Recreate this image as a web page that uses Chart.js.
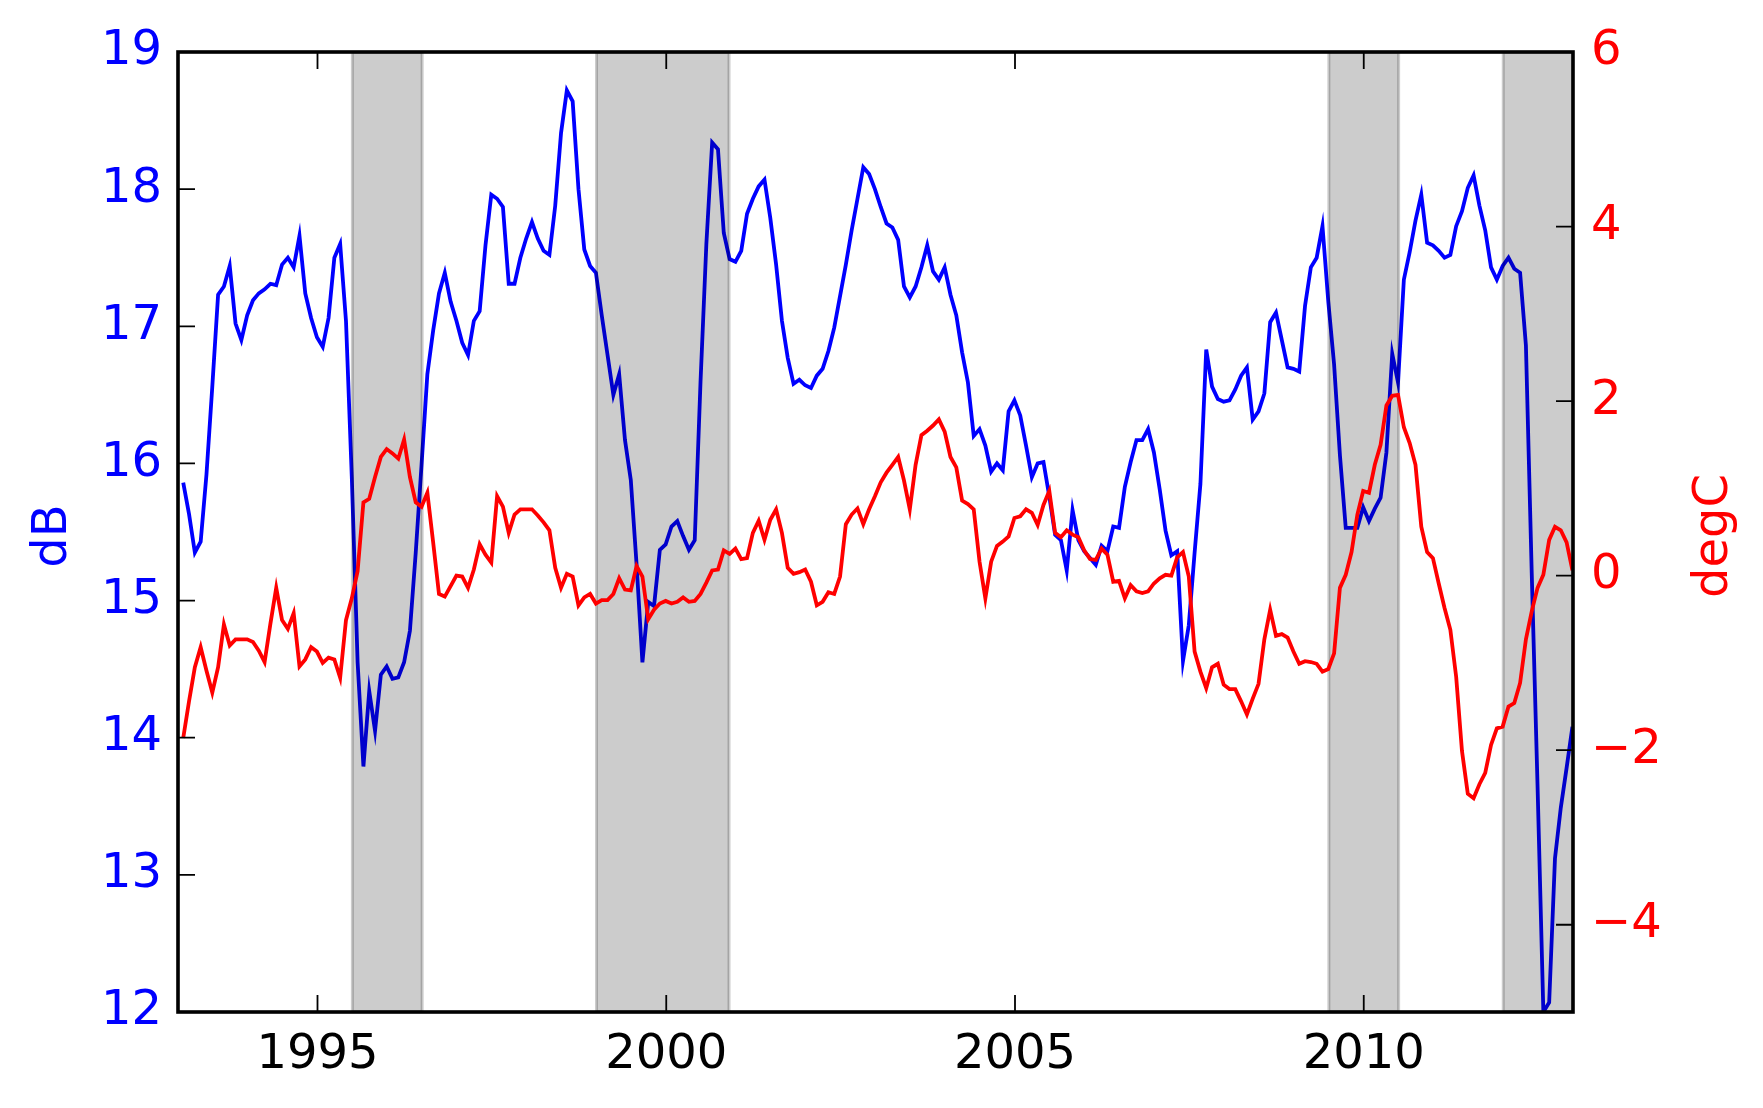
<!DOCTYPE html>
<html>
<head>
<meta charset="utf-8">
<script src="https://cdn.jsdelivr.net/npm/chart.js@4.4.1/dist/chart.umd.min.js"></script>
<style>
  html, body { margin: 0; padding: 0; background: #fff; }
  canvas { display: block; }
</style>
</head>
<body>
<canvas id="grafico" width="1763" height="1108"></canvas>
<script>
// monthly series, first sample late Jan 1993
const firstMonth = 1993 + 0.9 / 12;

const dB = [
  15.86, 15.63, 15.35, 15.43, 15.92, 16.56, 17.23, 17.29, 17.44, 17.02, 16.90, 17.08,
  17.19, 17.24, 17.27, 17.31, 17.30, 17.45, 17.50, 17.43, 17.66, 17.24, 17.06, 16.92,
  16.85, 17.06, 17.50, 17.60, 17.04, 15.90, 14.55, 13.79, 14.34, 14.05, 14.46, 14.52,
  14.43, 14.44, 14.55, 14.78, 15.35, 15.99, 16.65, 16.97, 17.24, 17.39, 17.18, 17.04,
  16.88, 16.79, 17.04, 17.11, 17.59, 17.96, 17.93, 17.87, 17.31, 17.31, 17.50, 17.64,
  17.76, 17.64, 17.55, 17.52, 17.88, 18.41, 18.72, 18.64, 18.00, 17.56, 17.44, 17.39,
  17.08, 16.79, 16.50, 16.65, 16.17, 15.88, 15.26, 14.55, 14.99, 14.96, 15.37, 15.41,
  15.54, 15.58, 15.47, 15.37, 15.44, 16.60, 17.60, 18.34, 18.29, 17.68, 17.49, 17.47,
  17.55, 17.82, 17.93, 18.02, 18.07, 17.79, 17.45, 17.04, 16.77, 16.58, 16.61, 16.57,
  16.55, 16.64, 16.69, 16.82, 16.99, 17.22, 17.45, 17.70, 17.93, 18.16, 18.11, 18.00,
  17.87, 17.75, 17.72, 17.63, 17.29, 17.21, 17.29, 17.43, 17.59, 17.40, 17.34, 17.43,
  17.23, 17.08, 16.81, 16.59, 16.20, 16.25, 16.13, 15.94, 16.00, 15.95, 16.38, 16.46,
  16.35, 16.13, 15.90, 16.00, 16.01, 15.76, 15.48, 15.44, 15.22, 15.66, 15.44, 15.36,
  15.31, 15.26, 15.40, 15.36, 15.54, 15.53, 15.83, 16.01, 16.17, 16.17, 16.25, 16.08,
  15.81, 15.51, 15.33, 15.36, 14.56, 14.82, 15.35, 15.85, 16.83, 16.56, 16.47, 16.45,
  16.46, 16.54, 16.64, 16.70, 16.32, 16.38, 16.51, 17.03, 17.10, 16.90, 16.70, 16.69,
  16.67, 17.15, 17.43, 17.50, 17.73, 17.18, 16.72, 16.06, 15.53, 15.53, 15.53, 15.68,
  15.58, 15.67, 15.75, 16.08, 16.80, 16.59, 17.34, 17.54, 17.77, 17.96, 17.61, 17.59,
  17.55, 17.50, 17.52, 17.73, 17.84, 18.01, 18.10, 17.88, 17.70, 17.43, 17.34, 17.44,
  17.50, 17.42, 17.39, 16.86, 15.20, 13.65, 12.00, 12.07, 13.12, 13.49, 13.78, 14.08
];

const degC = [
  -1.86, -1.44, -1.05, -0.82, -1.09, -1.34, -1.05, -0.56, -0.80, -0.73, -0.73, -0.73,
  -0.76, -0.86, -0.99, -0.55, -0.14, -0.51, -0.61, -0.43, -1.04, -0.96, -0.82, -0.87,
  -1.00, -0.94, -0.96, -1.17, -0.51, -0.26, 0.05, 0.84, 0.88, 1.13, 1.36, 1.45,
  1.40, 1.34, 1.56, 1.13, 0.84, 0.79, 0.95, 0.38, -0.21, -0.24, -0.12, 0.00,
  -0.01, -0.14, 0.07, 0.36, 0.24, 0.15, 0.91, 0.79, 0.49, 0.70, 0.76, 0.76,
  0.76, 0.69, 0.61, 0.52, 0.09, -0.14, 0.02, -0.01, -0.34, -0.25, -0.21, -0.32,
  -0.28, -0.28, -0.21, -0.03, -0.16, -0.17, 0.11, -0.01, -0.50, -0.39, -0.32, -0.29,
  -0.32, -0.30, -0.25, -0.30, -0.29, -0.21, -0.08, 0.06, 0.07, 0.29, 0.25, 0.31,
  0.19, 0.20, 0.49, 0.63, 0.41, 0.64, 0.76, 0.49, 0.09, 0.02, 0.04, 0.07,
  -0.07, -0.34, -0.30, -0.19, -0.21, -0.01, 0.59, 0.70, 0.77, 0.59, 0.76, 0.91,
  1.07, 1.18, 1.27, 1.36, 1.09, 0.76, 1.27, 1.61, 1.66, 1.72, 1.79, 1.65,
  1.36, 1.24, 0.86, 0.82, 0.76, 0.16, -0.26, 0.16, 0.34, 0.39, 0.45, 0.66,
  0.68, 0.76, 0.72, 0.58, 0.81, 0.97, 0.49, 0.44, 0.52, 0.47, 0.44, 0.29,
  0.19, 0.18, 0.31, 0.24, -0.07, -0.06, -0.26, -0.11, -0.18, -0.20, -0.18, -0.09,
  -0.03, 0.01, 0.00, 0.21, 0.27, -0.01, -0.87, -1.10, -1.29, -1.05, -1.01, -1.25,
  -1.30, -1.30, -1.44, -1.59, -1.41, -1.24, -0.73, -0.39, -0.69, -0.67, -0.71, -0.87,
  -1.01, -0.98, -0.99, -1.01, -1.10, -1.07, -0.89, -0.14, 0.01, 0.27, 0.70, 0.97,
  0.95, 1.27, 1.50, 1.95, 2.06, 2.07, 1.70, 1.52, 1.27, 0.56, 0.27, 0.20,
  -0.09, -0.37, -0.62, -1.16, -2.01, -2.50, -2.55, -2.39, -2.26, -1.94, -1.75, -1.73,
  -1.50, -1.46, -1.23, -0.73, -0.41, -0.14, 0.01, 0.41, 0.56, 0.52, 0.38, 0.06
];

// shaded periods (start, end) in years
const periodos = [[1995.5, 1996.5], [1999.0, 2000.9], [2009.5, 2010.5], [2012.0, 2013.0]];

const anosTicks = [1995, 2000, 2005, 2010];
const dBTicks = [12, 13, 14, 15, 16, 17, 18, 19];
const degTicks = [-4, -2, 0, 2, 4, 6];

const meses = dB.map((_, i) => firstMonth + i / 12);

Chart.defaults.font.family = 'DejaVu Sans';
Chart.defaults.font.size = 48;

const decor = {
  id: 'decor',
  afterDatasetDraw(chart, args) {
    // faixas cinzentas por cima da linha azul, por baixo da vermelha
    if (chart.data.datasets[args.index].label !== 'dB') return;
    const { ctx, chartArea: a, scales: { x } } = chart;
    ctx.save();
    ctx.beginPath();
    ctx.rect(a.left, a.top, a.width, a.height);
    ctx.clip();
    ctx.fillStyle = 'rgba(0,0,0,0.2)';
    ctx.strokeStyle = 'rgba(0,0,0,0.2)';
    ctx.lineWidth = 3;
    periodos.forEach(([s, e]) => {
      const x0 = x.getPixelForValue(s);
      const x1 = x.getPixelForValue(e);
      ctx.fillRect(x0, a.top, x1 - x0, a.height);
      ctx.strokeRect(x0, a.top, x1 - x0, a.height);
    });
    ctx.restore();
  },
  afterDraw(chart) {
    const { ctx, chartArea: a, scales: { x, y, y1 } } = chart;
    const len = 17;
    ctx.save();
    ctx.strokeStyle = '#000';
    ctx.lineWidth = 1.8;
    ctx.beginPath();
    anosTicks.forEach(v => {
      const px = x.getPixelForValue(v);
      ctx.moveTo(px, a.bottom); ctx.lineTo(px, a.bottom - len);
      ctx.moveTo(px, a.top); ctx.lineTo(px, a.top + len);
    });
    dBTicks.forEach(v => {
      const py = y.getPixelForValue(v);
      ctx.moveTo(a.left, py); ctx.lineTo(a.left + len, py);
    });
    degTicks.forEach(v => {
      const py = y1.getPixelForValue(v);
      ctx.moveTo(a.right, py); ctx.lineTo(a.right - len, py);
    });
    ctx.stroke();

    ctx.lineWidth = 3.6;
    ctx.strokeRect(a.left, a.top, a.width, a.height);

    // títulos dos eixos
    ctx.font = '48px "DejaVu Sans"';
    ctx.textAlign = 'center';
    ctx.textBaseline = 'middle';
    const cy = (a.top + a.bottom) / 2 + 4;
    ctx.fillStyle = '#0000ff';
    ctx.translate(54, cy);
    ctx.rotate(-Math.PI / 2);
    ctx.fillText('dB', 0, 0);
    ctx.setTransform(1, 0, 0, 1, 0, 0);
    ctx.fillStyle = '#ff0000';
    ctx.translate(1715, cy);
    ctx.rotate(-Math.PI / 2);
    ctx.fillText('degC', 0, 0);
    ctx.restore();
  }
};

new Chart(document.getElementById('grafico'), {
  type: 'line',
  data: {
    datasets: [
      {
        label: 'dB',
        data: dB.map((v, i) => ({ x: meses[i], y: v })),
        borderColor: '#0000ff',
        borderWidth: 3.8,
        pointRadius: 0,
        tension: 0,
        yAxisID: 'y',
        order: 2
      },
      {
        label: 'degC',
        data: degC.map((v, i) => ({ x: meses[i], y: v })),
        borderColor: '#ff0000',
        borderWidth: 3.8,
        pointRadius: 0,
        tension: 0,
        yAxisID: 'y1',
        order: 1
      }
    ]
  },
  options: {
    responsive: false,
    animation: false,
    devicePixelRatio: 1,
    layout: { padding: { top: 52, left: 0, right: 0, bottom: 0 } },
    plugins: {
      legend: { display: false },
      tooltip: { enabled: false }
    },
    scales: {
      x: {
        type: 'linear',
        position: 'bottom',
        min: 1993,
        max: 2013,
        grid: { display: false },
        border: { display: false },
        afterBuildTicks: s => { s.ticks = anosTicks.map(v => ({ value: v })); },
        afterFit: s => { s.height = 96; },
        ticks: {
          color: '#000',
          padding: 7,
          maxRotation: 0,
          autoSkip: false,
          callback: v => String(v)
        }
      },
      y: {
        type: 'linear',
        position: 'left',
        min: 12,
        max: 19,
        grid: { display: false },
        border: { display: false },
        afterBuildTicks: s => { s.ticks = dBTicks.map(v => ({ value: v })); },
        afterFit: s => { s.width = 178; },
        ticks: { color: '#0000ff', padding: 8, autoSkip: false }
      },
      y1: {
        type: 'linear',
        position: 'right',
        min: -5,
        max: 6,
        grid: { display: false },
        border: { display: false },
        afterBuildTicks: s => { s.ticks = degTicks.map(v => ({ value: v })); },
        afterFit: s => { s.width = 190; },
        ticks: {
          color: '#ff0000',
          padding: 10,
          autoSkip: false,
          callback: v => String(v).replace('-', '\u2212')
        }
      }
    }
  },
  plugins: [decor]
});
</script>
</body>
</html>
